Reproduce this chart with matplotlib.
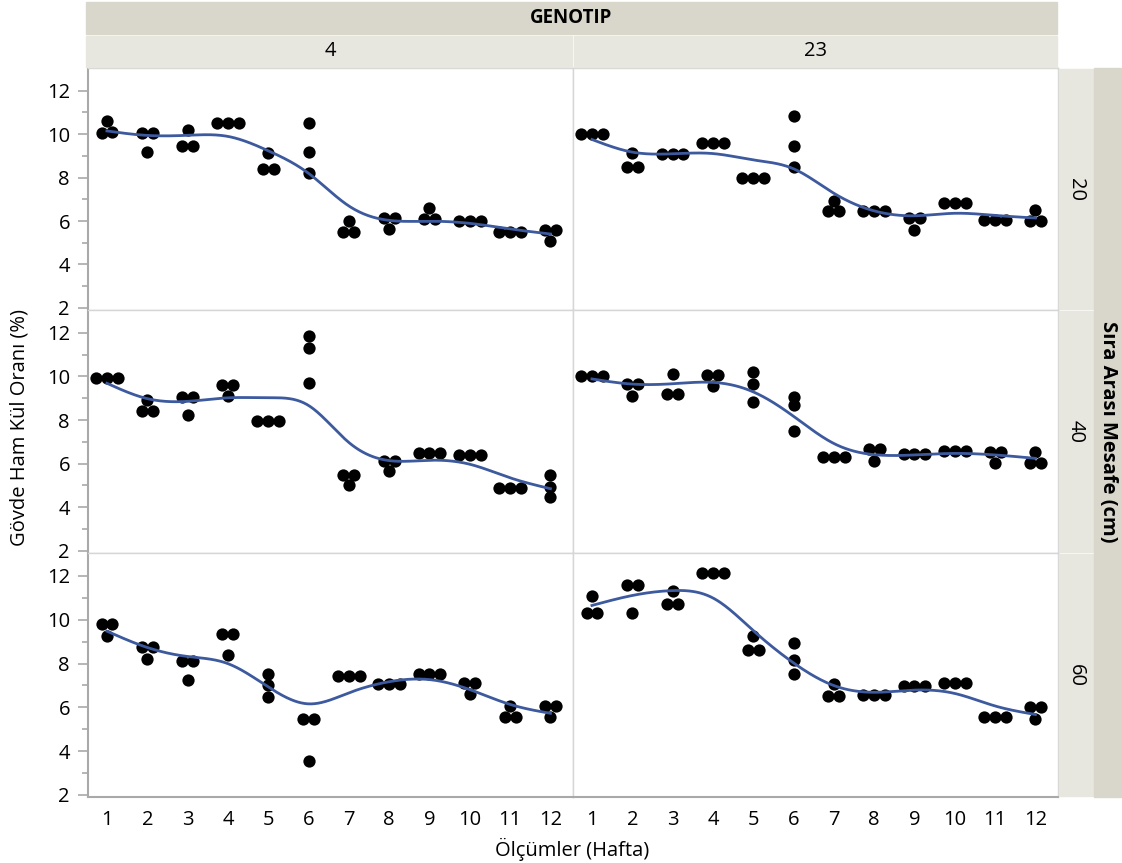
import numpy as np
import matplotlib
matplotlib.use("Agg")
import matplotlib.pyplot as plt
from matplotlib.patches import Rectangle

plt.rcParams['font.family'] = ['Open Sans', 'DejaVu Sans']

weeks = np.arange(1, 13)
genotypes = ['4', '23']
spacings = ['20', '40', '60']

# three replicate readings per week
g4_s20 = [[10.05, 10.6, 10.1], [10.05, 9.2, 10.05], [9.45, 10.2, 9.45], [10.5, 10.5, 10.5],
          [9.15, 8.4, 8.4], [10.5, 9.2, 8.2], [6.0, 5.5, 5.5], [6.15, 5.65, 6.15],
          [6.6, 6.1, 6.1], [6.0, 6.0, 6.0], [5.5, 5.5, 5.5], [5.6, 5.1, 5.6]]
g23_s20 = [[10.0, 10.0, 10.0], [9.15, 8.5, 8.5], [9.1, 9.1, 9.1], [9.6, 9.6, 9.6],
           [8.0, 8.0, 8.0], [10.85, 9.45, 8.5], [6.9, 6.45, 6.45], [6.45, 6.45, 6.45],
           [6.15, 5.6, 6.15], [6.85, 6.85, 6.85], [6.05, 6.05, 6.05], [6.5, 6.0, 6.0]]
g4_s40 = [[9.95, 9.95, 9.95], [8.9, 8.4, 8.4], [9.05, 8.25, 9.05], [9.6, 9.1, 9.6],
          [7.95, 7.95, 7.95], [11.85, 11.3, 9.7], [5.5, 5.0, 5.5], [6.1, 5.65, 6.1],
          [6.5, 6.5, 6.5], [6.4, 6.4, 6.4], [4.9, 4.9, 4.9], [5.5, 4.95, 4.45]]
g23_s40 = [[10.0, 10.0, 10.0], [9.65, 9.1, 9.65], [10.1, 9.2, 9.2], [10.05, 9.55, 10.05],
           [10.2, 9.65, 8.85], [9.05, 8.7, 7.5], [6.3, 6.3, 6.3], [6.65, 6.1, 6.65],
           [6.45, 6.45, 6.45], [6.6, 6.6, 6.6], [6.55, 6.05, 6.55], [6.55, 6.05, 6.05]]
g4_s60 = [[9.8, 9.25, 9.8], [8.75, 8.2, 8.75], [8.1, 7.25, 8.1], [9.35, 8.4, 9.35],
          [7.5, 7.0, 6.45], [5.45, 3.55, 5.45], [7.45, 7.45, 7.45], [7.05, 7.05, 7.05],
          [7.5, 7.5, 7.5], [7.1, 6.6, 7.1], [6.05, 5.55, 5.55], [6.05, 5.55, 6.05]]
g23_s60 = [[11.1, 10.3, 10.3], [11.6, 10.3, 11.6], [11.3, 10.7, 10.7], [12.15, 12.15, 12.15],
           [9.25, 8.6, 8.6], [8.95, 8.15, 7.5], [7.05, 6.5, 6.5], [6.55, 6.55, 6.55],
           [6.95, 6.95, 6.95], [7.1, 7.1, 7.1], [5.55, 5.55, 5.55], [6.0, 5.45, 6.0]]

panels = {('20', '4'): g4_s20, ('20', '23'): g23_s20,
          ('40', '4'): g4_s40, ('40', '23'): g23_s40,
          ('60', '4'): g4_s60, ('60', '23'): g23_s60}

LAM = 1.0
LINE_COLOR = '#3d5a9e'
STRIP_DARK = '#d9d7cb'
STRIP_LIGHT = '#e7e6df'
FS = 14.5


def smoothing_spline(x, y, w, lam, xs):
    """Natural cubic smoothing spline (Reinsch form)."""
    n = len(x)
    h = np.diff(x)
    Q = np.zeros((n, n - 2))
    R = np.zeros((n - 2, n - 2))
    for j in range(1, n - 1):
        Q[j - 1, j - 1] = 1 / h[j - 1]
        Q[j, j - 1] = -1 / h[j - 1] - 1 / h[j]
        Q[j + 1, j - 1] = 1 / h[j]
        R[j - 1, j - 1] = (h[j - 1] + h[j]) / 3
        if j < n - 2:
            R[j - 1, j] = R[j, j - 1] = h[j] / 6
    W = np.diag(w)
    K = Q @ np.linalg.solve(R, Q.T)
    g = np.linalg.solve(W + lam * K, W @ y)
    gam = np.concatenate([[0], np.linalg.solve(R, Q.T @ g), [0]])
    out = np.empty_like(xs)
    for k, t in enumerate(xs):
        i = min(max(np.searchsorted(x, t) - 1, 0), n - 2)
        a, b = t - x[i], x[i + 1] - t
        hi = h[i]
        out[k] = (a * g[i + 1] + b * g[i]) / hi - a * b / 6 * (
            (1 + a / hi) * gam[i + 1] + (1 + b / hi) * gam[i])
    return out


def swarm_offsets(vals, dy=0.3, dx=0.27):
    """Spread near-equal values side by side, like JMP's point layout."""
    vals = np.asarray(vals)
    order = np.argsort(vals)
    offs = np.zeros(len(vals))
    clusters, cur = [], [order[0]]
    for a, b in zip(order[:-1], order[1:]):
        if vals[b] - vals[a] < dy:
            cur.append(b)
        else:
            clusters.append(cur)
            cur = [b]
    clusters.append(cur)
    for c in clusters:
        for i, k in enumerate(c):
            offs[k] = (i - (len(c) - 1) / 2) * dx
    return offs


W_PX, H_PX = 1122, 863
fig = plt.figure(figsize=(W_PX / 100, H_PX / 100), dpi=100)


def fx(px):
    return px / W_PX


def fy(py):
    return 1 - py / H_PX


col_edges = [88, 573, 1058]
row_edges = [68, 310, 553, 797]

for r, sp in enumerate(spacings):
    for c, gt in enumerate(genotypes):
        x0, x1 = col_edges[c], col_edges[c + 1]
        y0, y1 = row_edges[r], row_edges[r + 1]
        ax = fig.add_axes([fx(x0), fy(y1), fx(x1 - x0), (y1 - y0) / H_PX])
        data = np.array(panels[(sp, gt)])
        xs_pts, ys_pts = [], []
        for wk, vals in zip(weeks, data):
            xs_pts.extend(wk + swarm_offsets(vals))
            ys_pts.extend(vals)
        ax.scatter(xs_pts, ys_pts, s=78, color='black', linewidths=0, zorder=3)
        xf = np.linspace(1, 12, 400)
        yf = smoothing_spline(weeks.astype(float), data.mean(axis=1),
                              np.full(12, 3.0), LAM, xf)
        ax.plot(xf, yf, color=LINE_COLOR, lw=2.0, zorder=4)
        ax.set_xlim(0.53, 12.56)
        ax.set_ylim(1.9, 13.05)
        for s in ax.spines.values():
            s.set_color('#d6d6d6')
            s.set_linewidth(1.0)
        ax.set_yticks(np.arange(2, 13, 2))
        ax.set_yticks(np.arange(3, 13, 2), minor=True)
        ax.set_xticks(weeks)
        if c == 0:
            ax.spines['left'].set_color('#a9a9a9')
            ax.spines['left'].set_linewidth(1.5)
            ax.tick_params(axis='y', which='major', length=7, width=1.2,
                           color='#a9a9a9', labelsize=FS, pad=6)
            ax.tick_params(axis='y', which='minor', length=4, width=1.2,
                           color='#a9a9a9')
        else:
            ax.tick_params(axis='y', which='both', left=False, labelleft=False)
        if r == 2:
            ax.spines['bottom'].set_color('#a9a9a9')
            ax.spines['bottom'].set_linewidth(1.5)
            ax.tick_params(axis='x', length=0, labelsize=FS, pad=9)
        else:
            ax.tick_params(axis='x', length=0, labelbottom=False)

# header strips
fig.patches.append(Rectangle((fx(86), fy(34)), fx(1057 - 86), 32 / H_PX,
                             transform=fig.transFigure, color=STRIP_DARK, zorder=0))
fig.text(fx((86 + 1057) / 2), fy(18), 'GENOTIP', ha='center', va='center',
         fontsize=13.5, fontweight='bold')
for c, gt in enumerate(genotypes):
    x0 = col_edges[c] - 2 if c == 0 else col_edges[c] + 1
    x1 = col_edges[c + 1] - 1
    fig.patches.append(Rectangle((fx(x0), fy(67)), fx(x1 - x0), 31 / H_PX,
                                 transform=fig.transFigure, color=STRIP_LIGHT, zorder=0))
    fig.text(fx((col_edges[c] + col_edges[c + 1]) / 2), fy(51), gt,
             ha='center', va='center', fontsize=FS)

# right strips
for r, sp in enumerate(spacings):
    y0, y1 = row_edges[r] + 1, row_edges[r + 1] - 1
    fig.patches.append(Rectangle((fx(1059), fy(y1)), fx(34), (y1 - y0) / H_PX,
                                 transform=fig.transFigure, color=STRIP_LIGHT, zorder=0))
    fig.text(fx(1076), fy((y0 + y1) / 2), sp, ha='center', va='center',
             fontsize=FS, rotation=-90)
fig.patches.append(Rectangle((fx(1094), fy(797)), fx(28), (797 - 68) / H_PX,
                             transform=fig.transFigure, color=STRIP_DARK, zorder=0))
fig.text(fx(1108), fy(432), 'Sıra Arası Mesafe (cm)', ha='center', va='center',
         fontsize=FS, fontweight='bold', rotation=-90)

fig.text(fx(20), fy(428), 'Gövde Ham Kül Oranı (%)', ha='center', va='center',
         fontsize=FS, rotation=90)
fig.text(fx(572), fy(849), 'Ölçümler (Hafta)', ha='center', va='center', fontsize=FS)

fig.savefig('out.png', dpi=100)
